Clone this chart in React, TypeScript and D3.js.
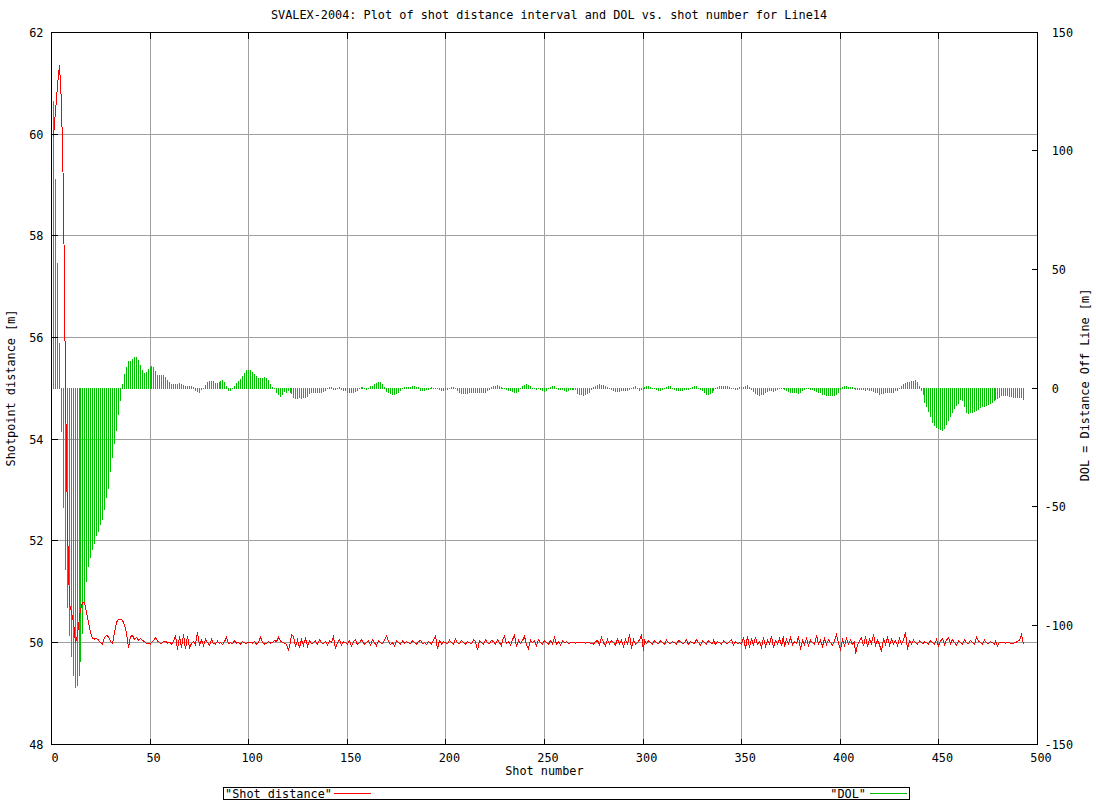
import React from 'react';
import * as d3 from 'd3';

const TITLE = 'SVALEX-2004: Plot of shot distance interval and DOL vs. shot number for Line14';
const X_LABEL = 'Shot number';
const Y_LABEL = 'Shotpoint distance [m]';
const Y2_LABEL = 'DOL = Distance Off Line [m]';
const LEGEND_A = '"Shot distance"';
const LEGEND_B = '"DOL"';

const xTicks = [0, 50, 100, 150, 200, 250, 300, 350, 400, 450, 500];
const yTicks = [48, 50, 52, 54, 56, 58, 60, 62];
const y2Ticks = [-150, -100, -50, 0, 50, 100, 150];

// Shot distance interval [m], shots 1..493
const shotDistance = [
  59.95, 60.45, 60.95, 61.36, 60.6, 58.8, 55.0, 52.3, 50.75, 50.6,
  50.4, 50.0, 50.15, 50.5, 50.65, 50.78, 50.78, 50.6, 50.4, 50.2,
  50.08, 50.07, 50.08, 50.05, 50.0, 49.97, 50.1, 50.14, 50.12, 50.02,
  49.98, 50.2, 50.4, 50.46, 50.46, 50.44, 50.35, 50.18, 49.9, 50.12,
  50.14, 50.06, 50.1, 50.05, 50.08, 50.04, 50.02, 49.98, 49.99, 49.97,
  50.0, 50.04, 50.1, 50.03, 50.0, 49.98, 50.02, 50.03, 49.99, 50.01,
  49.97, 50.02, 50.14, 49.86, 50.12, 49.9, 50.16, 49.87, 50.13, 49.9,
  49.98, 50.02, 49.96, 50.2, 49.96, 50.05, 49.94, 50.07, 50.0, 49.95,
  50.06, 49.98, 49.97, 50.03, 49.98, 50.0, 49.96, 50.02, 50.1, 49.98,
  50.0, 49.98, 50.03, 49.99, 50.0, 49.97, 50.02, 50.0, 49.98, 50.01,
  50.0, 49.99, 50.02, 49.97, 50.0, 50.11, 50.0, 49.97, 49.98, 50.02,
  49.99, 50.0, 50.04, 50.02, 50.1, 50.03, 50.0, 49.99, 49.96, 49.86,
  50.0, 50.16, 50.12, 49.92, 50.05, 49.9, 50.06, 49.95, 50.08, 49.93,
  50.04, 49.98, 50.0, 50.03, 49.97, 50.06, 50.0, 49.98, 50.02, 49.96,
  50.03, 50.0, 50.11, 49.88, 50.0, 50.06, 49.95, 50.02, 50.0, 49.97,
  50.04, 49.93, 50.02, 50.05, 49.96, 50.0, 50.06, 50.02, 49.97, 50.0,
  50.03, 49.95, 50.06, 50.0, 49.94, 50.04, 50.0, 49.98, 50.05, 50.13,
  50.02, 49.96, 50.0, 49.93, 50.04, 50.0, 49.97, 50.03, 49.99, 50.02,
  50.0, 49.98, 50.03, 50.0, 49.97, 50.02, 50.04, 49.98, 50.0, 49.96,
  50.02, 50.0, 49.97, 50.05, 50.13, 49.88, 50.04, 49.97, 50.02, 50.0,
  49.98, 50.05, 50.0, 49.96, 50.07, 50.0, 49.98, 50.04, 50.0, 49.97,
  50.02, 50.0, 49.98, 50.05, 50.02, 49.85, 50.04, 50.0, 49.96, 50.06,
  50.0, 49.98, 50.04, 50.02, 49.97, 50.06, 50.0, 49.93, 50.05, 50.13,
  49.98, 50.02, 49.95, 50.06, 50.14, 49.92, 50.05, 49.98, 50.04, 50.12,
  49.96, 49.88, 50.05, 50.0, 50.03, 49.94, 50.06, 50.0, 49.97, 50.04,
  50.0, 49.96, 50.04, 49.98, 50.1, 49.97, 50.02, 49.95, 50.03, 50.0,
  50.02, 49.98, 50.0, 50.01, 50.0, 49.99, 50.0, 50.01, 50.0, 50.0,
  49.99, 50.0, 50.0, 49.98, 49.97, 50.02, 50.04, 49.96, 50.1, 50.0,
  49.94, 50.06, 49.97, 50.04, 50.0, 49.95, 50.07, 49.98, 50.05, 49.92,
  50.06, 49.97, 50.16, 49.88, 50.06, 49.96, 50.0, 50.05, 50.14, 49.84,
  50.05, 49.98, 50.03, 50.0, 49.97, 50.04, 50.0, 49.98, 50.03, 50.0,
  49.96, 50.05, 50.0, 49.98, 50.02, 50.0, 49.97, 50.04, 50.02, 49.98,
  50.0, 50.05, 49.96, 50.02, 50.0, 49.98, 50.06, 50.0, 49.95, 50.03,
  50.0, 49.97, 50.04, 50.0, 49.98, 50.05, 49.96, 50.02, 50.0, 49.97,
  50.03, 50.0, 49.98, 50.02, 50.06, 49.95, 50.02, 49.98, 50.0, 49.97,
  50.1, 49.88, 50.12, 49.9, 50.08, 49.94, 50.11, 49.96, 50.02, 49.9,
  50.1, 49.92, 50.05, 49.98, 50.12, 49.9, 50.04, 49.97, 50.08, 49.93,
  50.13, 49.92, 50.06, 49.97, 50.1, 49.95, 50.02, 49.98, 50.13, 49.86,
  50.04, 49.96, 50.08, 49.94, 50.05, 50.0, 49.96, 50.14, 49.98, 50.05,
  49.92, 50.08, 49.96, 50.06, 50.0, 49.95, 50.04, 50.16, 49.98, 49.86,
  50.06, 49.94, 50.08, 49.97, 50.05, 49.96, 50.02, 49.78, 49.95, 50.04,
  50.1, 49.93, 50.12, 49.92, 50.06, 49.98, 50.16, 49.94, 50.05, 49.96,
  49.82, 50.08, 49.96, 50.1, 49.95, 50.06, 49.98, 50.04, 49.94, 50.08,
  49.97, 50.05, 50.2, 49.86, 50.04, 49.98, 50.05, 50.0, 49.97, 50.03,
  50.0, 49.98, 50.02, 50.0, 49.97, 50.04, 50.0, 49.96, 50.06, 49.93,
  50.03, 50.08, 49.96, 50.05, 50.1, 49.98, 50.06, 50.0, 49.95, 50.04,
  50.0, 49.97, 50.06, 50.0, 49.98, 50.04, 50.0, 49.96, 50.1, 50.03,
  50.0, 49.97, 50.05, 50.0, 49.98, 50.02, 50.0, 49.97, 50.02, 49.94,
  50.0, 50.01, 50.0, 49.99, 50.0, 50.0, 49.98, 49.99, 50.0, 50.02,
  50.05, 50.16, 49.97,
];

// DOL = distance off line [m], shots 1..493
const dol = [
  121, 88, 53, 19, -18, -50, -76, -92, -104, -113,
  -121, -126, -125, -121, -115, -103, -90, -81, -75, -71,
  -67.5, -65, -62, -60, -57, -55, -51, -46, -42, -35,
  -29, -23, -17.5, -11, -5, 2, 6, 9, 11.5,
  11.7, 12.4, 13.2, 13.2, 12.0, 9.8, 7.7, 6.3, 7.0, 8.1,
  8.8, 9.6, 9.0, 7.4, 5.6, 5.6, 5.6, 5.6, 4.6, 3.7,
  2.5, 2.0, 1.7, 1.7, 2.0, 2.2, 1.8, 1.5, 1.1, 1.1,
  1.1, 1.1, 0.7, -0.7, -1.0, -1.4, -0.3, 0.3, 1.4, 2.5,
  3.1, 3.1, 3.1, 2.2, 2.2, 2.8, 3.1, 3.5, 2.5, 1.1,
  -0.6, -0.6, 0.2, 1.0, 2.1, 3.1, 3.9, 5.2, 6.5, 7.7,
  7.7, 7.7, 6.7, 5.9, 5.2, 4.2, 4.2, 4.2, 4.8, 4.2,
  3.4, 1.7, 0.7, 0.3, -1.4, -2.5, -3.2, -2.5, -1.1, -1.4,
  -0.7, -1.4, -2.1, -3.5, -4.2, -4.2, -3.5, -3.9, -3.7, -3.7,
  -3.1, -2.1, -1.4, -1.4, -1.4, -1.4, -1.4, -1.4, -1.1, -0.7,
  0.2, 0.4, 0.4, -0.4, -0.4, 0.1, 0.4, -0.4, -0.6, -0.7,
  -1.4, -1.4, -1.7, -1.4, -1.1, -0.6, 0.3, 0.6, 0.6, 0.3,
  -0.4, 0.3, 0.8, 1.1, 1.7, 2.4, 2.7, 2.7, 1.7, 0.7,
  -1.0, -1.7, -2.0, -2.2, -2.2, -2.0, -1.4, -0.7, 0.1, 0.4,
  0.6, 0.6, 0.7, 1.0, 0.9, 0.6, 0.6, -0.7, -0.8, -0.7,
  -0.4, -0.2, 0.3, 0.6, 0.1, 0.3, 0.3,
  -0.3, -0.6, -0.6, -0.1, -0.3, 0.3, 0.4, 0.4, 0.1, -0.6,
  -1.7, -2.0, -2.1, -2.1, -1.8, -1.7, -1.7, -1.7, -1.7, -1.7,
  -1.7, -1.7, -1.7, -1.4, -0.8, -0.3, 0.6, 0.8, 1.1, 1.3,
  1.1, 0.6, 0.1, 0.1, -0.3, -0.6, -0.6, -1.0, -1.5, -1.7,
  -1.1, 0.1, 0.8, 1.4, 1.7, 1.4, 0.8, 0.3, 0.1, -0.3,
  0.1, -0.3, -0.8, -1.1, -0.6, 0.3, 0.7, 0.8, 0.8, 0.3,
  -0.3, -0.3, -0.3, -0.8, -1.1, -0.8, -0.3, -0.3, -0.3, -0.3,
  -2.0, -2.2, -2.5, -2.8, -2.5, -2.0, -1.4, -0.3, 0.6, 1.1,
  1.4, 1.7, 1.4, 1.4, 1.1, 0.6, 0.1, -0.3, -0.8, -1.1,
  -1.1, -1.1, -0.8, -0.8, -0.6, -0.6, -0.3, 0.1, 0.6, 0.8,
  0.3, -0.6, -0.3, -0.3, 0.6, 1.1, 1.1, 0.6, 0.3, 0.1,
  -0.3, -0.8, -0.8, -0.3, 0.1, 0.6, 0.8, 0.8, 0.3, -0.3,
  -0.6, -0.8, -0.8, -0.6, -0.3, -0.3, -0.3, 0.2, 0.6, 0.8,
  0.8, 0.3, -0.3, -0.8, -1.7, -2.2, -2.2, -2.0, -1.7, -0.8,
  0.1, 0.6, 0.8, 0.8, 0.8, 0.8, 0.8, 0.6, 0.3, 0.1,
  -0.3, -0.3,
  0.4, 0.4, 0.6, 1.0, 1.3, 0.7, -0.3, -1.1, -2.0, -2.2,
  -2.8, -2.5, -2.2, -1.7, -1.1, -0.6, -0.8, -1.1, -0.8, -0.3,
  0.1, 0.3, 0.1, -0.3, -0.6, -1.1, -1.7, -1.7, -1.7, -1.7,
  -2.0, -1.4, -0.8, -0.3, 0.1, 0.1, -0.3, -0.3, -0.6, -1.1,
  -1.4, -1.7, -2.2, -2.5, -2.8, -2.8, -2.8, -2.8, -2.8, -2.2,
  -1.4, -0.3, 0.6, 0.8, 0.8, 0.4, 0.4, 0.4, 0.1, -0.3,
  -0.3, -0.3, -0.3, -0.3, -0.6, -0.3, -0.6, -0.8, -1.1, -1.4,
  -1.7, -2.2, -2.1, -2.0, -1.7, -1.7, -1.7, -1.7, -1.4, -0.8,
  -0.6, 0.1, 0.8, 1.7, 2.4, 2.8, 2.8, 2.9, 3.1, 3.4,
  2.8, 1.1, -0.6, -2.5, -5.9, -7.3, -9.6, -11.8, -14.0, -15.6,
  -16.3, -16.9, -17.1, -17.4, -16.6, -15.2, -13.5, -11.8, -10.0, -8.1,
  -6.9, -6.2, -4.6, -5.0, -7.6, -10.0, -10.4, -10.0, -9.8, -9.6,
  -9.3, -8.7, -7.9, -7.6, -7.3, -6.9, -6.5, -6.0, -5.6, -5.1,
  -4.5, -4.1, -3.5, -2.8, -2.8, -2.8, -2.8, -3.4, -3.4, -3.7,
  -3.7, -3.7, -3.7, -3.7, -4.6,
];

const FONT = '"DejaVu Sans Mono", "Liberation Mono", monospace';
const FS = 11.85;
const RED = '#ff0000';
const GREEN = '#00c000';
const GRID = '#a0a0a0';

export default function App() {
  const W = 1096;
  const H = 800;
  const x = d3.scaleLinear().domain([0, 500]).range([51.4, 1037.4]);
  const y = d3.scaleLinear().domain([48, 62]).range([744.3, 32.3]);
  const y2 = d3.scaleLinear().domain([-150, 150]).range([744.3, 32.3]);

  const px = (v: number) => Math.floor(x(v)) + 0.5;
  const py = (v: number) => Math.floor(y(v)) + 0.5;
  const py2 = (v: number) => Math.floor(y2(v)) + 0.5;

  const left = px(0);
  const right = px(500);
  const top = py(62);
  const bottom = py(48);

  const shots = d3.range(1, shotDistance.length + 1);
  const dolShots = d3.range(1, dol.length + 1);

  const line = d3
    .line<number>()
    .x((_, i) => px(shots[i]))
    .y((d) => y(d));

  const base = Math.floor(y2(0));

  const textStyle: React.CSSProperties = { whiteSpace: 'pre' };

  return (
    <svg
      width={W}
      height={H}
      style={{ position: 'absolute', left: 0, top: 0, background: '#fff' }}
      fontFamily={FONT}
      fontSize={FS}
    >
      <rect x={0} y={0} width={W} height={H} fill="#fff" />
      {/* grid */}
      <g stroke={GRID} strokeWidth={1} shapeRendering="crispEdges">
        {xTicks
          .filter((t) => t > 0 && t < 500)
          .map((t) => (
            <line key={'gx' + t} x1={px(t)} x2={px(t)} y1={top} y2={bottom} />
          ))}
        {yTicks
          .filter((t) => t > 48 && t < 62)
          .map((t) => (
            <line key={'gy' + t} x1={left} x2={right} y1={py(t)} y2={py(t)} />
          ))}
      </g>

      {/* DOL impulses */}
      <g stroke={GREEN} strokeWidth={1} shapeRendering="crispEdges">
        {dol.map((v, i) => {
          const xx = px(dolShots[i]);
          const yv = y2(v);
          const y1 = v >= 0 ? Math.round(yv) : base;
          const yb = v >= 0 ? base + 1 : Math.round(yv) + 1;
          return <line key={'d' + i} x1={xx} x2={xx} y1={y1} y2={yb} />;
        })}
      </g>

      {/* Shot distance line */}
      <path d={line(shotDistance) || ''} fill="none" stroke={RED} strokeWidth={1} shapeRendering="crispEdges" />

      {/* border */}
      <rect
        x={left}
        y={top}
        width={right - left}
        height={bottom - top}
        fill="none"
        stroke="#000"
        strokeWidth={1}
        shapeRendering="crispEdges"
      />

      {/* ticks */}
      <g stroke="#000" strokeWidth={1} shapeRendering="crispEdges">
        {xTicks.map((t) => (
          <g key={'tx' + t}>
            <line x1={px(t)} x2={px(t)} y1={bottom} y2={bottom - 6} />
            <line x1={px(t)} x2={px(t)} y1={top} y2={top + 6} />
          </g>
        ))}
        {yTicks.map((t) => (
          <line key={'ty' + t} x1={left} x2={left + 6} y1={py(t)} y2={py(t)} />
        ))}
        {y2Ticks.map((t) => (
          <line key={'ty2' + t} x1={right} x2={right - 6} y1={py2(t)} y2={py2(t)} />
        ))}
      </g>

      {/* tick labels */}
      <g fill="#000">
        {xTicks.map((t) => (
          <text key={'lx' + t} x={x(t)} y={762} textAnchor="middle" style={textStyle}>
            {' ' + t}
          </text>
        ))}
        {yTicks.map((t) => (
          <text key={'ly' + t} x={43.5} y={py(t) + 4} textAnchor="end" style={textStyle}>
            {' ' + t}
          </text>
        ))}
        {y2Ticks.map((t) => (
          <text key={'ly2' + t} x={1044.5} y={py2(t) + 4} textAnchor="start" style={textStyle}>
            {(t >= 0 ? ' ' : '') + t}
          </text>
        ))}
      </g>

      {/* title and axis labels */}
      <text x={549} y={19} textAnchor="middle" style={textStyle}>
        {TITLE}
      </text>
      <text x={x(250)} y={775} textAnchor="middle" style={textStyle}>
        {X_LABEL}
      </text>
      <text
        transform={`translate(15,388) rotate(-90)`}
        textAnchor="middle"
        style={textStyle}
      >
        {Y_LABEL}
      </text>
      <text
        transform={`translate(1089,385) rotate(-90)`}
        textAnchor="middle"
        style={textStyle}
      >
        {Y2_LABEL}
      </text>

      {/* legend */}
      <rect x={223.5} y={787.5} width={686} height={12} fill="none" stroke="#000" shapeRendering="crispEdges" />
      <text x={225} y={797.5} style={textStyle}>
        {LEGEND_A}
      </text>
      <line x1={334} x2={371} y1={793.5} y2={793.5} stroke={RED} shapeRendering="crispEdges" />
      <text x={866} y={797.5} textAnchor="end" style={textStyle}>
        {LEGEND_B}
      </text>
      <line x1={870} x2={907} y1={793.5} y2={793.5} stroke={GREEN} shapeRendering="crispEdges" />
    </svg>
  );
}
